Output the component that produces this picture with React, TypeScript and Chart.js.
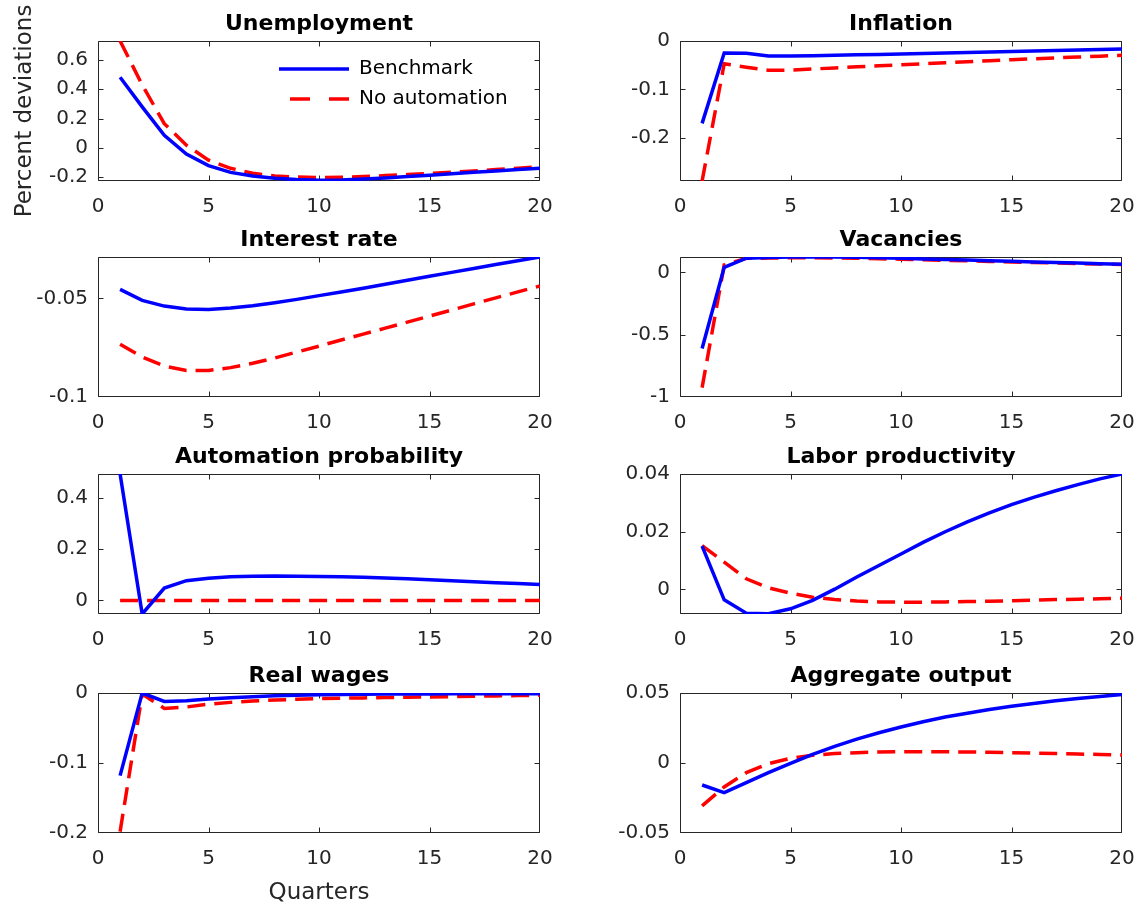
import React, { useEffect, useRef } from "react";
import { Chart, registerables } from "chart.js";

Chart.register(...registerables);

// ---------------- data ----------------
const quarters = [1, 2, 3, 4, 5, 6, 7, 8, 9, 10, 11, 12, 13, 14, 15, 16, 17, 18, 19, 20];
const xTicks = [0, 5, 10, 15, 20];
const seriesLabels = ["Benchmark", "No automation"];

const unempBenchmark = [0.482, 0.28, 0.086, -0.043, -0.122, -0.168, -0.193, -0.208, -0.217, -0.222, -0.22, -0.214, -0.206, -0.197, -0.187, -0.178, -0.168, -0.159, -0.149, -0.14];
const unempNoAuto = [0.73, 0.43, 0.165, 0.018, -0.084, -0.14, -0.174, -0.192, -0.2, -0.204, -0.202, -0.197, -0.19, -0.183, -0.176, -0.167, -0.158, -0.149, -0.139, -0.13];
const unempTicks = [-0.2, 0, 0.2, 0.4, 0.6];

const inflBenchmark = [-0.17, -0.0247, -0.0254, -0.031, -0.031, -0.0302, -0.0294, -0.0285, -0.0277, -0.0268, -0.0258, -0.0247, -0.0237, -0.0227, -0.0217, -0.0206, -0.0196, -0.0186, -0.0175, -0.0165];
const inflNoAuto = [-0.289, -0.047, -0.054, -0.0605, -0.06, -0.0578, -0.0556, -0.0534, -0.0512, -0.049, -0.0469, -0.0448, -0.0427, -0.0406, -0.0385, -0.0367, -0.0349, -0.0331, -0.0313, -0.0296];
const inflTicks = [-0.2, -0.1, 0];

const rateBenchmark = [-0.0454, -0.051, -0.0539, -0.0554, -0.0556, -0.0549, -0.0537, -0.0522, -0.0505, -0.0486, -0.0467, -0.0448, -0.0428, -0.0408, -0.0388, -0.0368, -0.0348, -0.0328, -0.0309, -0.029];
const rateNoAuto = [-0.0733, -0.0797, -0.0843, -0.0865, -0.0865, -0.0851, -0.0829, -0.0802, -0.0772, -0.0742, -0.0711, -0.0681, -0.0651, -0.062, -0.059, -0.0559, -0.0528, -0.0497, -0.0467, -0.0437];
const rateTicks = [-0.1, -0.05];

const vacBenchmark = [-0.611, 0.04, 0.113, 0.118, 0.122, 0.123, 0.122, 0.12, 0.116, 0.112, 0.107, 0.102, 0.098, 0.093, 0.088, 0.083, 0.078, 0.074, 0.069, 0.064];
const vacNoAuto = [-0.925, 0.059, 0.112, 0.115, 0.117, 0.117, 0.115, 0.113, 0.109, 0.105, 0.1, 0.096, 0.092, 0.087, 0.083, 0.079, 0.075, 0.071, 0.067, 0.063];
const vacTicks = [-1, -0.5, 0];

const autoBenchmark = [0.493, -0.053, 0.048, 0.077, 0.086, 0.092, 0.094, 0.095, 0.094, 0.093, 0.092, 0.09, 0.087, 0.084, 0.081, 0.077, 0.073, 0.069, 0.066, 0.062];
const autoNoAuto = [0, 0, 0, 0, 0, 0, 0, 0, 0, 0, 0, 0, 0, 0, 0, 0, 0, 0, 0, 0];
const autoTicks = [0, 0.2, 0.4];

const prodBenchmark = [0.015, -0.0036, -0.0082, -0.0084, -0.0067, -0.0038, 0.0001, 0.0043, 0.0083, 0.0123, 0.0163, 0.02, 0.0234, 0.0265, 0.0294, 0.0319, 0.0342, 0.0363, 0.0383, 0.04];
const prodNoAuto = [0.0152, 0.0095, 0.0037, 0.0006, -0.0013, -0.0027, -0.0035, -0.004, -0.0043, -0.0044, -0.0044, -0.0043, -0.0042, -0.0041, -0.0039, -0.0037, -0.0035, -0.0034, -0.0032, -0.003];
const prodTicks = [0, 0.02, 0.04];

const wageBenchmark = [-0.118, 0.0, -0.012, -0.011, -0.0086, -0.0067, -0.0052, -0.004, -0.0031, -0.0025, -0.002, -0.0017, -0.0015, -0.0014, -0.0013, -0.0012, -0.0011, -0.0011, -0.001, -0.001];
const wageNoAuto = [-0.198, -0.0014, -0.022, -0.02, -0.016, -0.0134, -0.0115, -0.01, -0.009, -0.0081, -0.0075, -0.007, -0.0065, -0.0061, -0.0057, -0.0052, -0.0047, -0.0042, -0.0037, -0.0033];
const wageTicks = [-0.2, -0.1, 0];

const outBenchmark = [-0.0157, -0.0211, -0.014, -0.0069, -0.0002, 0.0062, 0.0119, 0.0171, 0.0216, 0.0257, 0.0295, 0.0328, 0.0356, 0.0382, 0.0406, 0.0425, 0.0444, 0.0461, 0.0475, 0.049];
const outNoAuto = [-0.0306, -0.0171, -0.0069, -0.0005, 0.0033, 0.0055, 0.0067, 0.0074, 0.0078, 0.0081, 0.0081, 0.008, 0.0079, 0.0077, 0.0074, 0.0071, 0.0068, 0.0064, 0.0061, 0.0057];
const outTicks = [-0.05, 0, 0.05];

// ---------------- panel table ----------------
type Panel = {
  title: string;
  bench: number[];
  noauto: number[];
  yMin: number;
  yMax: number;
  yTicks: number[];
  row: number;
  col: number;
  legend?: boolean;
  yTitle?: string;
  xTitle?: string;
};

const PANELS: Panel[] = [
  { title: "Unemployment", bench: unempBenchmark, noauto: unempNoAuto, yMin: -0.227, yMax: 0.73, yTicks: unempTicks, row: 0, col: 0, legend: true, yTitle: "Percent deviations" },
  { title: "Inflation", bench: inflBenchmark, noauto: inflNoAuto, yMin: -0.289, yMax: 0, yTicks: inflTicks, row: 0, col: 1 },
  { title: "Interest rate", bench: rateBenchmark, noauto: rateNoAuto, yMin: -0.1, yMax: -0.029, yTicks: rateTicks, row: 1, col: 0 },
  { title: "Vacancies", bench: vacBenchmark, noauto: vacNoAuto, yMin: -1, yMax: 0.123, yTicks: vacTicks, row: 1, col: 1 },
  { title: "Automation probability", bench: autoBenchmark, noauto: autoNoAuto, yMin: -0.053, yMax: 0.493, yTicks: autoTicks, row: 2, col: 0 },
  { title: "Labor productivity", bench: prodBenchmark, noauto: prodNoAuto, yMin: -0.0085, yMax: 0.04, yTicks: prodTicks, row: 2, col: 1 },
  { title: "Real wages", bench: wageBenchmark, noauto: wageNoAuto, yMin: -0.2, yMax: 0, yTicks: wageTicks, row: 3, col: 0, xTitle: "Quarters" },
  { title: "Aggregate output", bench: outBenchmark, noauto: outNoAuto, yMin: -0.05, yMax: 0.05, yTicks: outTicks, row: 3, col: 1 },
];

// ---------------- layout / style ----------------
const FONT = "'DejaVu Sans', 'Liberation Sans', sans-serif";
const AXIS_COLOR = "#262626";
const BLUE = "#0000ff";
const RED = "#ff0000";
const PLOT_W = 442;
const PLOT_H = 140;
const TITLE_LINE = 22;
const TITLE_PAD_BOTTOM = 6;
const COL_LEFT = [0, 580];
const COL_YW = [98, 100];
const COL_RP = [18, 19];
const ROW_TOP = [41, 257, 474, 693];
const ROW_CANVAS_TOP = [0, 225, 442, 661];
const ROW_XH = [40, 40, 40, 74];
const TICK_LEN = 5;
const LEG_DX = 181;
const LEG_DY = 18;

const fmt = (v: number | string) => String(Math.round(Number(v) * 10000) / 10000);

const boxPlugin = {
  id: "matlabBox",
  beforeDatasetsDraw(chart: any) {
    const { ctx, chartArea: a, scales } = chart;
    const l = Math.round(a.left) + 0.5;
    const r = Math.round(a.right) - 0.5;
    const t = Math.round(a.top) + 0.5;
    const b = Math.round(a.bottom) - 0.5;
    const clamp = (v: number, lo: number, hi: number) => Math.min(hi, Math.max(lo, v));
    ctx.save();
    ctx.strokeStyle = AXIS_COLOR;
    ctx.lineWidth = 1;
    ctx.setLineDash([]);
    ctx.beginPath();
    ctx.rect(l, t, r - l, b - t);
    for (const tk of scales.x.ticks) {
      const px = clamp(Math.round(scales.x.getPixelForValue(tk.value)) + 0.5, l, r);
      ctx.moveTo(px, b);
      ctx.lineTo(px, b - TICK_LEN);
      ctx.moveTo(px, t);
      ctx.lineTo(px, t + TICK_LEN);
    }
    for (const tk of scales.y.ticks) {
      const py = clamp(Math.round(scales.y.getPixelForValue(tk.value)) + 0.5, t, b);
      ctx.moveTo(l, py);
      ctx.lineTo(l + TICK_LEN, py);
      ctx.moveTo(r, py);
      ctx.lineTo(r - TICK_LEN, py);
    }
    ctx.stroke();
    ctx.restore();
  },
};

const legendPlacer = {
  id: "legendPlacer",
  afterLayout(chart: any) {
    const lg = chart.legend;
    if (!lg || !lg.options || !lg.options.display) return;
    const a = chart.chartArea;
    const pad = lg.options.labels.padding;
    lg.left = a.left + LEG_DX - pad;
    lg.top = a.top + LEG_DY - pad;
    lg.width = 320;
    lg.height = 120;
    lg.right = lg.left + 320;
    lg.bottom = lg.top + 120;
  },
};

function canvasBox(p: Panel) {
  const top = ROW_CANVAS_TOP[p.row];
  const w = COL_YW[p.col] + PLOT_W + COL_RP[p.col];
  const h = ROW_TOP[p.row] - top + PLOT_H + ROW_XH[p.row];
  return { left: COL_LEFT[p.col], top, w, h };
}

function makeConfig(p: Panel): any {
  const yw = COL_YW[p.col];
  const xh = ROW_XH[p.row];
  const rp = COL_RP[p.col];
  const titleBlock = ROW_TOP[p.row] - ROW_CANVAS_TOP[p.row];
  return {
    type: "line",
    data: {
      datasets: [
        {
          label: seriesLabels[0],
          data: quarters.map((q, i) => ({ x: q, y: p.bench[i] })),
          borderColor: BLUE,
          backgroundColor: BLUE,
          borderWidth: 3.5,
          pointRadius: 0,
          fill: false,
          tension: 0,
        },
        {
          label: seriesLabels[1],
          data: quarters.map((q, i) => ({ x: q, y: p.noauto[i] })),
          borderColor: RED,
          backgroundColor: RED,
          borderWidth: 3.5,
          borderDash: [18, 9],
          pointRadius: 0,
          fill: false,
          tension: 0,
        },
      ],
    },
    options: {
      animation: false,
      responsive: false,
      events: [],
      layout: { padding: 0 },
      plugins: {
        tooltip: { enabled: false },
        title: {
          display: true,
          text: p.title,
          fullSize: false,
          color: "#000",
          font: { family: FONT, size: 22, weight: "bold", lineHeight: 1 },
          padding: { top: titleBlock - TITLE_LINE - TITLE_PAD_BOTTOM, bottom: TITLE_PAD_BOTTOM },
        },
        legend: p.legend
          ? {
              display: true,
              position: "chartArea",
              align: "start",
              labels: {
                usePointStyle: true,
                pointStyle: "line",
                pointStyleWidth: 70,
                boxWidth: 70,
                boxHeight: 20,
                padding: 10,
                color: "#000",
                font: { family: FONT, size: 20 },
                generateLabels: (chart: any) => {
                  const items = (Chart.defaults as any).plugins.legend.labels.generateLabels(chart);
                  return items.map((it: any, i: number) => ({
                    ...it,
                    pointStyle: "line",
                    lineWidth: 3.5,
                    lineDash: i === 1 ? [20, 19] : [],
                    lineDashOffset: i === 1 ? 28 : 0,
                  }));
                },
              },
            }
          : { display: false },
      },
      scales: {
        x: {
          type: "linear",
          min: 0,
          max: 20,
          bounds: "data",
          grid: { display: false, drawTicks: false },
          border: { display: false },
          ticks: {
            color: AXIS_COLOR,
            font: { family: FONT, size: 20 },
            padding: 14,
            autoSkip: false,
            maxRotation: 0,
            callback: (v: any) => fmt(v),
          },
          afterBuildTicks: (s: any) => {
            s.ticks = xTicks.map((v) => ({ value: v }));
          },
          afterFit: (s: any) => {
            s.height = xh;
            s.paddingLeft = 0;
            s.paddingRight = rp;
          },
          title: p.xTitle
            ? {
                display: true,
                text: p.xTitle,
                color: AXIS_COLOR,
                font: { family: FONT, size: 23, lineHeight: 1.2 },
                padding: { top: 0, bottom: 0 },
              }
            : { display: false },
        },
        y: {
          type: "linear",
          min: p.yMin,
          max: p.yMax,
          bounds: "data",
          grid: { display: false, drawTicks: false },
          border: { display: false },
          ticks: {
            color: AXIS_COLOR,
            font: { family: FONT, size: 20 },
            padding: 10,
            autoSkip: false,
            callback: (v: any) => fmt(v),
          },
          afterBuildTicks: (s: any) => {
            s.ticks = p.yTicks.map((v) => ({ value: v }));
          },
          afterFit: (s: any) => {
            s.width = yw;
            s.paddingTop = 0;
            s.paddingBottom = 0;
          },
          title: p.yTitle
            ? {
                display: true,
                text: p.yTitle,
                color: AXIS_COLOR,
                font: { family: FONT, size: 23, lineHeight: 1.2 },
                padding: { top: 11, bottom: 0 },
              }
            : { display: false },
        },
      },
    },
    plugins: [boxPlugin, legendPlacer],
  };
}

export default function App() {
  const refs = useRef<(HTMLCanvasElement | null)[]>([]);

  useEffect(() => {
    const charts: Chart[] = [];
    PANELS.forEach((p, i) => {
      const c = refs.current[i];
      if (c) charts.push(new Chart(c, makeConfig(p)));
    });
    return () => {
      charts.forEach((ch) => ch.destroy());
    };
  }, []);

  return (
    <div style={{ position: "absolute", left: 0, top: 0, width: 1141, height: 907, background: "#fff", overflow: "hidden" }}>
      {PANELS.map((p, i) => {
        const b = canvasBox(p);
        return (
          <canvas
            key={i}
            ref={(el) => {
              refs.current[i] = el;
            }}
            width={b.w}
            height={b.h}
            style={{ position: "absolute", left: b.left, top: b.top, width: b.w, height: b.h }}
          />
        );
      })}
    </div>
  );
}
